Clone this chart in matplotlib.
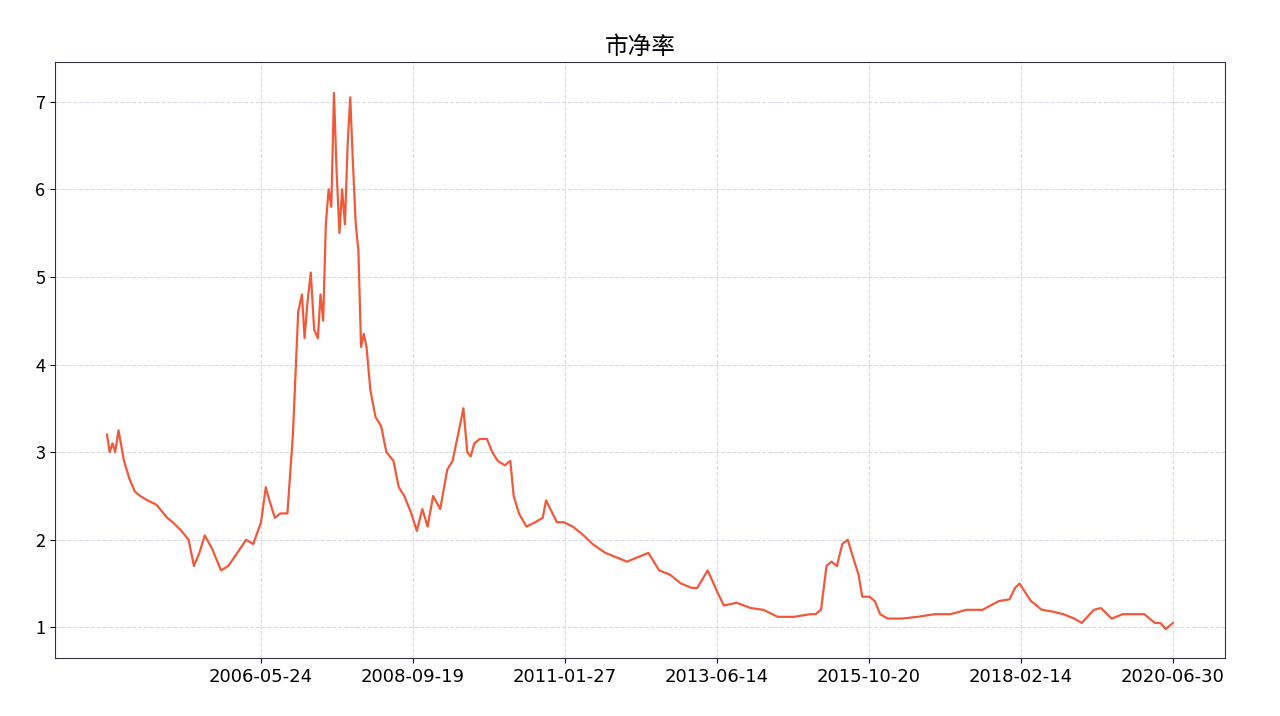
import matplotlib
matplotlib.use("Agg")
import matplotlib.pyplot as plt
import matplotlib.dates as mdates
import numpy as np
import pandas as pd

plt.rcParams['font.family'] = ['Noto Sans CJK SC', 'DejaVu Sans']

dates = ["2004-01-05","2004-01-20","2004-02-05","2004-02-20","2004-03-10","2004-04-10","2004-05-10","2004-06-10",
         "2004-07-10","2004-08-20","2004-10-10","2004-12-10","2005-01-10","2005-03-01","2005-04-10","2005-05-10",
         "2005-06-10","2005-07-10","2005-08-20","2005-10-10","2005-11-20","2006-01-10","2006-03-01","2006-04-10",
         "2006-05-24","2006-06-20","2006-07-10","2006-08-10","2006-09-10","2006-10-20","2006-11-20","2006-12-20",
         "2007-01-10","2007-01-25","2007-02-10","2007-03-01","2007-03-20","2007-04-10","2007-04-25","2007-05-10",
         "2007-05-25","2007-06-10","2007-06-25","2007-07-10","2007-07-25","2007-08-10","2007-08-25","2007-09-10",
         "2007-09-25","2007-10-10","2007-10-25","2007-11-10","2007-11-25","2007-12-10","2007-12-25","2008-01-10",
         "2008-02-01","2008-03-01","2008-04-01","2008-05-01","2008-06-10","2008-07-10","2008-08-10","2008-09-19",
         "2008-10-20","2008-11-20","2008-12-20","2009-01-20","2009-03-01","2009-04-10","2009-05-10","2009-06-10",
         "2009-07-10","2009-08-01","2009-08-20","2009-09-10","2009-10-10","2009-11-20","2009-12-20","2010-01-20",
         "2010-03-01","2010-04-01","2010-04-20","2010-05-20","2010-07-01","2010-08-20","2010-10-01","2010-10-20",
         "2010-12-20","2011-01-27","2011-03-20","2011-05-20","2011-07-10","2011-09-20","2011-11-20","2012-01-20",
         "2012-03-20","2012-05-20","2012-07-20","2012-09-20","2012-11-20","2013-01-20","2013-02-20","2013-04-20",
         "2013-06-14","2013-07-20","2013-10-01","2013-12-20","2014-03-01","2014-05-20","2014-08-20","2014-11-20",
         "2014-12-20","2015-01-20","2015-02-20","2015-03-20","2015-04-20","2015-05-20","2015-06-20","2015-07-20",
         "2015-08-20","2015-09-10","2015-10-20","2015-11-20","2015-12-20","2016-02-01","2016-04-20","2016-07-20",
         "2016-10-20","2017-01-20","2017-04-20","2017-07-20","2017-10-20","2017-12-20","2018-01-20","2018-02-14",
         "2018-04-20","2018-06-20","2018-08-20","2018-10-20","2018-12-20","2019-02-01","2019-04-10","2019-05-20",
         "2019-07-20","2019-09-20","2019-11-20","2020-01-20","2020-03-20","2020-04-20","2020-05-20","2020-06-30"]
pb = [3.2,3.0,3.1,3.0,3.25,2.9,2.7,2.55,
      2.5,2.45,2.4,2.25,2.2,2.1,2.0,1.7,
      1.85,2.05,1.9,1.65,1.7,1.85,2.0,1.95,
      2.2,2.6,2.45,2.25,2.3,2.3,3.2,4.6,
      4.8,4.3,4.7,5.05,4.4,4.3,4.8,4.5,
      5.6,6.0,5.8,7.1,6.2,5.5,6.0,5.6,
      6.5,7.05,6.3,5.6,5.3,4.2,4.35,4.2,
      3.7,3.4,3.3,3.0,2.9,2.6,2.5,2.3,
      2.1,2.35,2.15,2.5,2.35,2.8,2.9,3.2,
      3.5,3.0,2.95,3.1,3.15,3.15,3.0,2.9,
      2.85,2.9,2.5,2.3,2.15,2.2,2.25,2.45,
      2.2,2.2,2.15,2.05,1.95,1.85,1.8,1.75,
      1.8,1.85,1.65,1.6,1.5,1.45,1.45,1.65,
      1.4,1.25,1.28,1.22,1.2,1.12,1.12,1.15,
      1.15,1.2,1.7,1.75,1.7,1.95,2.0,1.8,
      1.6,1.35,1.35,1.3,1.15,1.1,1.1,1.12,
      1.15,1.15,1.2,1.2,1.3,1.32,1.45,1.5,
      1.3,1.2,1.18,1.15,1.1,1.05,1.2,1.22,
      1.1,1.15,1.15,1.15,1.05,1.05,0.98,1.05]
tick_labels = ["2006-05-24","2008-09-19","2011-01-27","2013-06-14","2015-10-20","2018-02-14","2020-06-30"]

x = mdates.date2num(pd.to_datetime(dates))
t1 = mdates.date2num(pd.Timestamp(tick_labels[0]))
t7 = mdates.date2num(pd.Timestamp(tick_labels[-1]))
ticks = np.linspace(t1, t7, len(tick_labels))
ppd = 912 / (t7 - t1)

fig = plt.figure(figsize=(12.8, 7.16), dpi=100)
ax = fig.add_axes([0.043, 0.081, 0.914, 0.832])
ax.plot(x, pb, color='#f05a3a', lw=1.6)
ax.set_xticks(ticks)
ax.set_xticklabels(tick_labels, fontsize=13, family=['DejaVu Sans'])
ax.set_xlim(t1 - 206 / ppd, t7 + 52 / ppd)
ax.set_ylim(0.65, 7.45)
ax.set_yticks([1, 2, 3, 4, 5, 6, 7])
ax.tick_params(axis='y', labelsize=13)
ax.grid(True, ls='--', color='#d8dce6', lw=0.8)
for s in ax.spines.values():
    s.set_color('#333344')
ax.set_title("市净率", fontsize=17, pad=6)
fig.savefig("out.png")
